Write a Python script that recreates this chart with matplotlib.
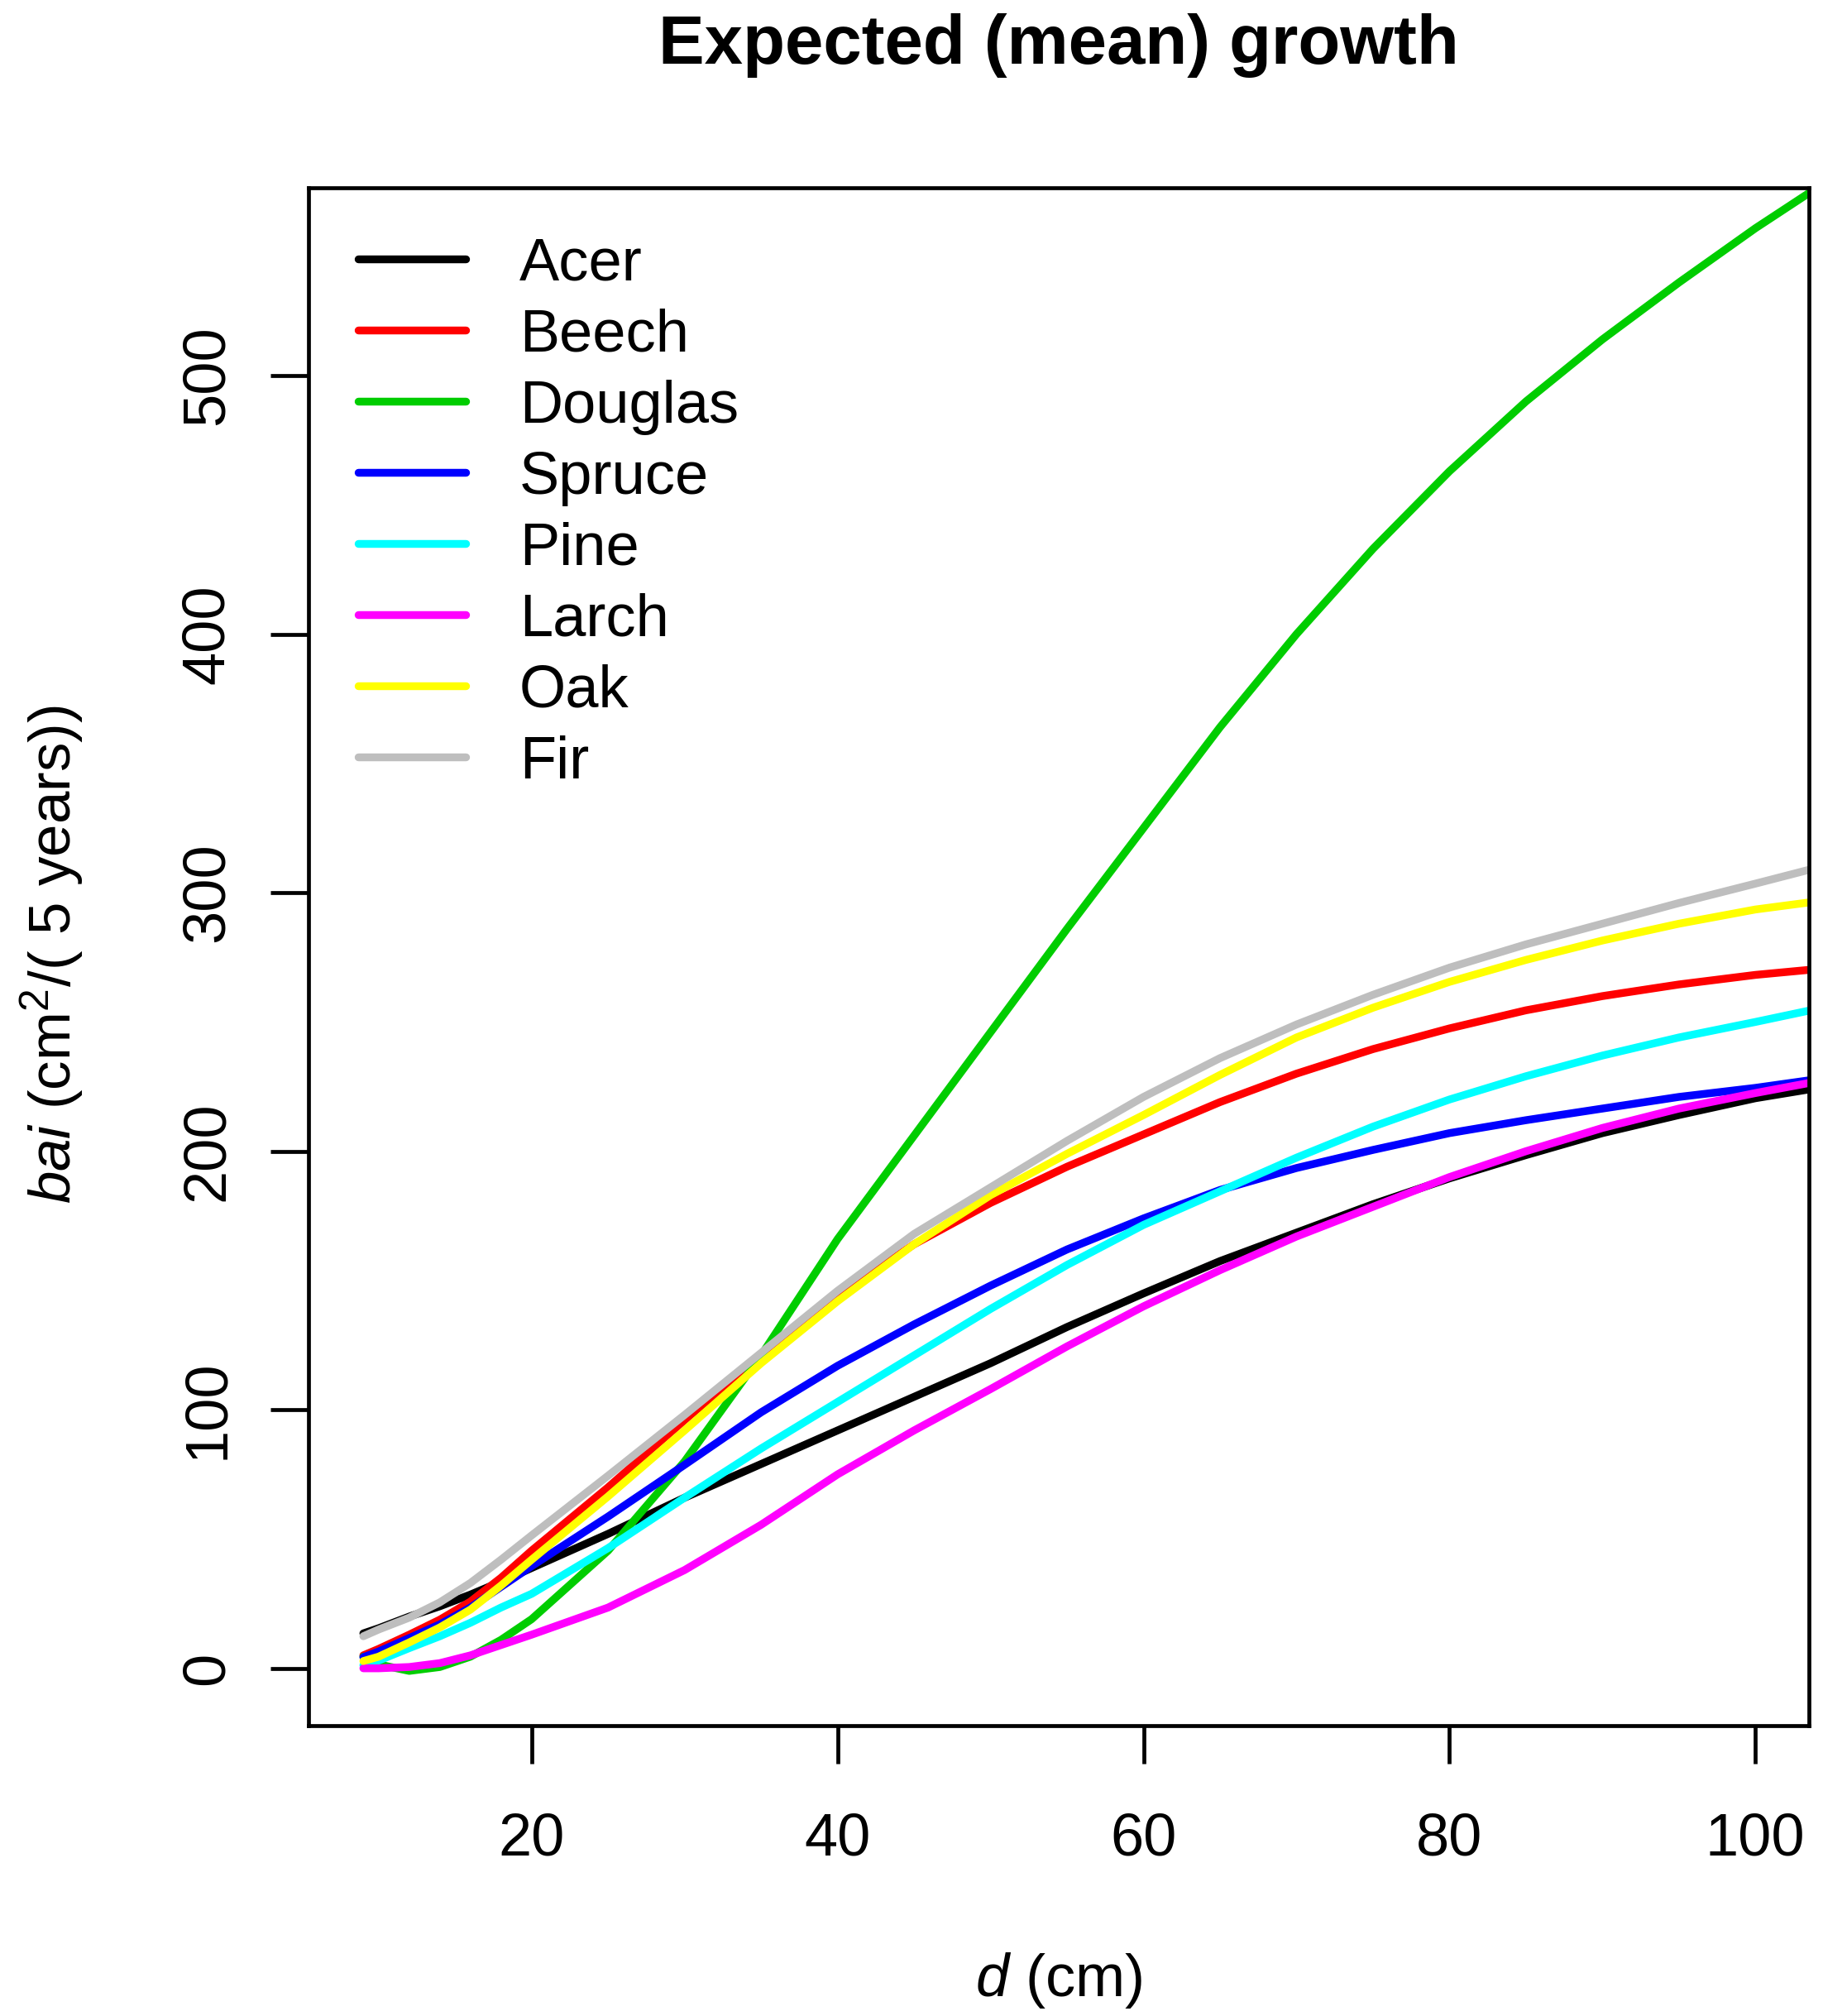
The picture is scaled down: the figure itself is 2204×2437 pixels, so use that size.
import matplotlib
matplotlib.use("Agg")
import matplotlib.pyplot as plt

plt.rcParams['font.family'] = ['Liberation Sans', 'DejaVu Sans']
plt.rcParams['mathtext.fontset'] = 'custom'
plt.rcParams['mathtext.rm'] = 'Liberation Sans'
plt.rcParams['mathtext.it'] = 'Liberation Sans:italic'
plt.rcParams['mathtext.bf'] = 'Liberation Sans:bold'

# diameter (cm) and expected basal area increment
d = [9, 10, 12, 14, 16, 18, 20, 25, 30, 35, 40, 45, 50, 55, 60, 65, 70, 75, 80, 85, 90, 95, 100, 103.6]

acer = [13.5, 15.5, 20, 24, 28.5, 33.5, 38.8, 52, 66, 79, 92, 105, 118, 132, 145, 157.5, 168.5, 179.5, 189.5, 198.5, 207, 214, 220.5, 224]
beech = [5, 7.5, 13, 18.8, 25.8, 35, 45.5, 70, 96, 121, 144, 164, 180, 194, 206.5, 219, 230, 239.5, 247.5, 254.5, 260, 264.5, 268.2, 270.2]
douglas = [4.5, 1.5, -1, 0.5, 4.5, 11, 19, 45.5, 80, 121, 166, 206, 246, 286, 325, 364, 400, 433, 463, 490, 514, 536, 557, 571]
spruce = [4.3, 6.5, 11.7, 17, 23.5, 31.5, 39.5, 58.7, 78.7, 99, 117, 133, 148, 162, 174, 185, 193.5, 200.5, 207, 212, 216.5, 221, 224.5, 227.5]
pine = [1.2, 3, 7.8, 12.4, 17.6, 23.5, 28.8, 46.5, 66, 85, 103, 121, 139, 156, 171.5, 184.5, 197.5, 209.5, 220, 229, 237, 244, 250, 254.5]
larch = [0, 0, 0.5, 2, 5, 9, 13, 23.5, 38, 55.5, 75, 92, 108, 124.5, 140, 154, 167, 178.5, 190, 200, 209, 216.5, 222.5, 226.5]
oak = [2.8, 4.5, 10, 15.8, 22.7, 32, 42, 66.5, 92, 118, 142, 164, 183, 199, 214, 229.5, 244, 255.5, 265.5, 274, 281.5, 288, 293.5, 296.3]
fir = [12.4, 15, 19.6, 25.5, 33, 42, 51.4, 74.5, 98, 122, 146, 168, 186, 204, 221, 236, 249, 260.5, 271, 280, 288, 296, 303.5, 309]

species = ['Acer', 'Beech', 'Douglas', 'Spruce', 'Pine', 'Larch', 'Oak', 'Fir']
series = [acer, beech, douglas, spruce, pine, larch, oak, fir]
colors = ['#000000', '#FF0000', '#00CD00', '#0000FF', '#00FFFF', '#FF00FF', '#FFFF00', '#BEBEBE']

x_ticks = [20, 40, 60, 80, 100]
y_ticks = [0, 100, 200, 300, 400, 500]

fig = plt.figure(figsize=(11.02, 12.185), dpi=200)
ax = fig.add_axes([0.1691, 0.1440, 0.8232, 0.7628])

for name, vals, col in zip(species, series, colors):
    ax.plot(d, vals, color=col, lw=3.4, solid_capstyle='round', solid_joinstyle='round', label=name)

ax.set_xlim(5.4, 103.5)
ax.set_ylim(-22.2, 572.6)
ax.set_xticks(x_ticks)
ax.set_yticks(y_ticks)
for sp in ax.spines.values():
    sp.set_linewidth(1.7)
ax.tick_params(axis='both', length=16.6, width=1.7, labelsize=26)
ax.tick_params(axis='x', pad=21)
ax.tick_params(axis='y', pad=15)
for lbl in ax.get_yticklabels():
    lbl.set_rotation(90)
    lbl.set_va('center')

ax.legend(loc='upper left', bbox_to_anchor=(0.0331, 0.968), frameon=False, fontsize=26,
          borderpad=0, borderaxespad=0, handlelength=1.8, handletextpad=0.9, labelspacing=0.263)

fig.text(0.5808, 1 - 77 / 2437, 'Expected (mean) growth', ha='center', va='baseline',
         fontsize=30, fontweight='bold')
fig.text(0.5808, 1 - 2413 / 2437, r'$\mathit{d}\ \mathrm{(cm)}$', ha='center', va='baseline', fontsize=26)
fig.text(86 / 2204, 1 - 1154 / 2437, r'$\mathit{bai}\ \mathrm{(cm^{2}/(\ 5\ years))}$',
         rotation=90, rotation_mode='anchor', ha='center', va='baseline', fontsize=25.5)

fig.savefig('out.png', dpi=200)
